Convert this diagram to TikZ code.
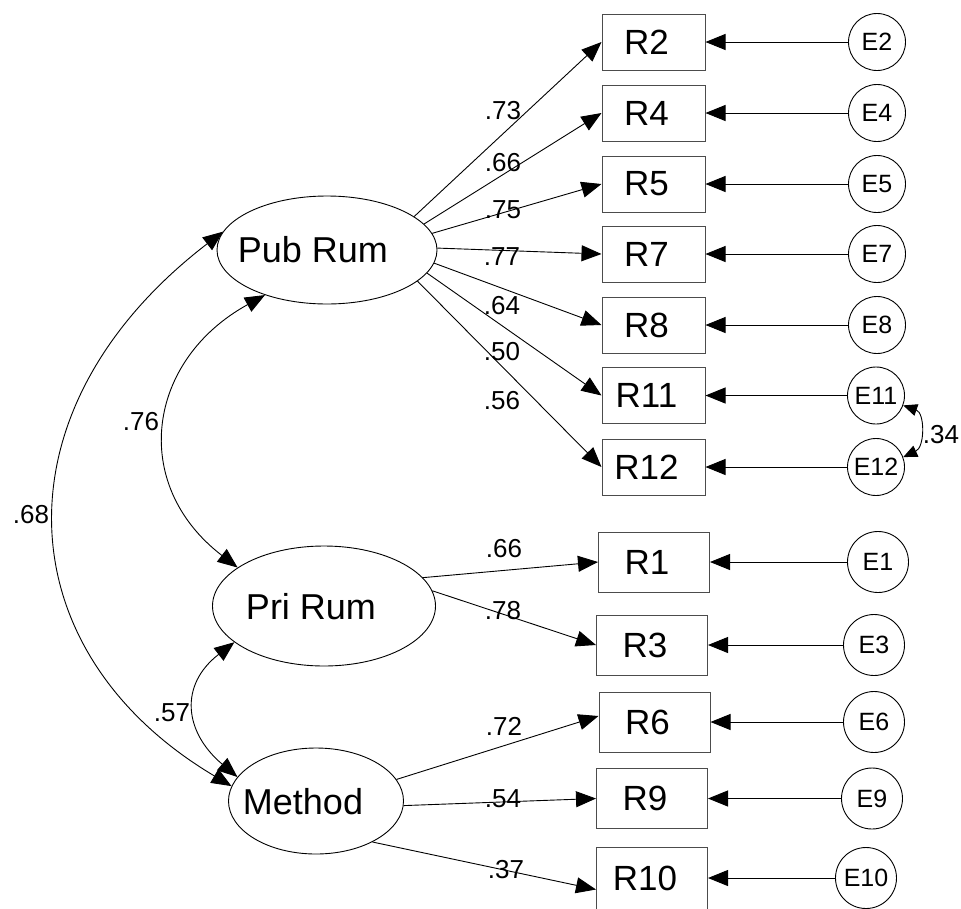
\documentclass[tikz,border=0pt]{standalone}
\usepackage{fontspec}
\setmainfont{Liberation Sans}
\usetikzlibrary{arrows.meta,shapes.geometric,calc}
\newcommand{\lft}[1]{#1\kern14pt}
\begin{document}
\begin{tikzpicture}[x=1pt,y=-1pt,
  lat/.style={ellipse,draw,line width=0.9pt,inner sep=0pt},
  lattext/.style={font=\fontsize{36}{40}\selectfont,inner sep=0pt},
  obs/.style={rectangle,draw=black!70,line width=1pt,inner sep=0pt,minimum width=103pt,minimum height=56pt,font=\fontsize{35}{40}\selectfont},
  obsb/.style={obs,minimum width=111pt,minimum height=60pt},
  err/.style={circle,draw,line width=0.9pt,inner sep=0pt,minimum size=57pt,font=\fontsize{25}{28}\selectfont},
  errb/.style={err,minimum size=61pt},
  coef/.style={font=\fontsize{26}{30}\selectfont,inner sep=0pt},
  pth/.style={line width=0.9pt,-{Triangle[length=20pt,width=16pt]}},
  cov/.style={line width=0.9pt,{Triangle[length=20pt,width=16pt]}-{Triangle[length=20pt,width=16pt]}},
  covs/.style={line width=0.9pt,{Triangle[length=14pt,width=12pt]}-{Triangle[length=14pt,width=12pt]}},
]
\useasboundingbox (0,0) rectangle (961,908);

% latent variables
\node[lat,minimum width=220pt,minimum height=108pt] (pub) at (327,250) {};
\node[lattext] (pubt) at (313,250) {Pub Rum};
\node[lat,minimum width=223pt,minimum height=120pt] (pri) at (324,606) {};
\node[lattext] (prit) at (311,607) {Pri Rum};
\node[lat,minimum width=175pt,minimum height=106pt] (meth) at (316,801) {};
\node[lattext] (metht) at (303,802) {Method};

% observed (upper)
\node[obs] (r2)  at (653.5,42)  {\lft{R2}};
\node[obs] (r4)  at (653.5,113) {\lft{R4}};
\node[obs] (r5)  at (653.5,184) {\lft{R5}};
\node[obs] (r7)  at (653.5,254) {\lft{R7}};
\node[obs] (r8)  at (653.5,325) {\lft{R8}};
\node[obs] (r11) at (653.5,395.5) {\lft{R11}};
\node[obs] (r12) at (653.5,467) {\lft{R12}};
% observed (lower)
\node[obsb] (r1)  at (654,562)   {\lft{R1}};
\node[obsb] (r3)  at (652,645)   {\lft{R3}};
\node[obsb] (r6)  at (654.5,722) {\lft{R6}};
\node[obsb] (r9)  at (652,798.5) {\lft{R9}};
\node[obsb,minimum height=62pt] (r10) at (652,878.5) {\lft{R10}};

% errors
\node[err] (e2)  at (877,42)  {E2};
\node[err] (e4)  at (877,113) {E4};
\node[err] (e5)  at (877,184) {E5};
\node[err] (e7)  at (877,254) {E7};
\node[err] (e8)  at (877,325) {E8};
\node[err] (e11) at (876,395.5) {E11};
\node[err] (e12) at (876,467) {E12};
\node[errb] (e1)  at (878,562)   {E1};
\node[errb] (e3)  at (874,645)   {E3};
\node[errb] (e6)  at (874,722)   {E6};
\node[errb] (e9)  at (872,798.5) {E9};
\node[errb] (e10) at (866,878)   {E10};

% loadings
\draw[pth] (pub.21)  -- (r2.west);
\draw[pth] (pub.15)  -- (r4.west);
\draw[pth] (pub.9)   -- (r5.west);
\draw[pth] (pub.1)   -- (r7.west);
\draw[pth] (pub.-7)  -- (r8.west);
\draw[pth] (pub.-13) -- (r11.west);
\draw[pth] (pub.-19) -- (r12.west);
\draw[pth] (pri.16)  -- (r1.west);
\draw[pth] (pri.8.5) -- (r3.west);
\draw[pth] (meth.15.6) -- ($(r6.west)+(0,-6)$);
\draw[pth] (meth.-3)   -- (r9.west);
\draw[pth] (meth.-36)  -- ($(r10.west)+(0,11)$);

% error paths
\foreach \e/\r in {e2/r2,e4/r4,e5/r5,e7/r7,e8/r8,e11/r11,e12/r12,e1/r1,e3/r3,e6/r6,e9/r9}
  \draw[pth] (\e.west) -- (\r.east);
\draw[pth] (e10.west) -- (r10.east |- e10.west);

% covariances
\draw[cov] (pub.170.5) .. controls (-7,408) and (4,651) .. (meth.170.8);
\draw[cov] (pub.216) .. controls (147,360) and (129,484) .. (pri.156.9);
\draw[cov] (pri.202.6) .. controls (179,685) and (184,732) .. (meth.163.8);
\draw[covs] (e11.-20) .. controls (925,413) and (925,447) .. (e12.20);

% coefficient labels
\node[coef] (c73) at (503,111) {.73};
\node[coef] (c66) at (503,163) {.66};
\node[coef] (c75) at (503,210) {.75};
\node[coef] (c77) at (502,257) {.77};
\node[coef] (c64) at (502,306) {.64};
\node[coef] (c50) at (502,352) {.50};
\node[coef] (c56) at (502,401) {.56};
\node[coef] (d66) at (504,549) {.66};
\node[coef] (d78) at (503,611) {.78};
\node[coef] (d72) at (504,726) {.72};
\node[coef] (d54) at (503,799) {.54};
\node[coef] (d37) at (506,870) {.37};
\node[coef] (k34) at (941,435) {.34};
\node[coef] (k68) at (31,515)  {.68};
\node[coef] (k76) at (141,422) {.76};
\node[coef] (k57) at (172,713) {.57};
\end{tikzpicture}
\end{document}
